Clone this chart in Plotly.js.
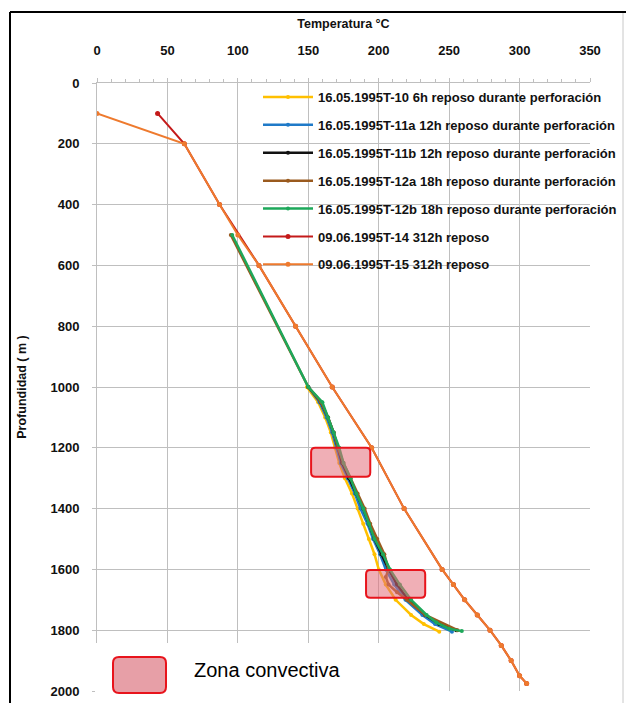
<!DOCTYPE html>
<html><head><meta charset="utf-8">
<script src="https://cdn.plot.ly/plotly-3.0.1.min.js"></script>
<style>html,body{margin:0;padding:0;background:#fff}#chart{width:635px;height:703px}</style>
</head><body><div id="chart"></div>
<script>
// ---- data ----
const seriesNames = [
  "16.05.1995T-10 6h reposo durante perforación",
  "16.05.1995T-11a 12h reposo durante perforación",
  "16.05.1995T-11b 12h reposo durante perforación",
  "16.05.1995T-12a 18h reposo durante perforación",
  "16.05.1995T-12b 18h reposo durante perforación",
  "09.06.1995T-14 312h reposo",
  "09.06.1995T-15 312h reposo"
];
const depthT10  = [1000,1050,1100,1150,1200,1250,1300,1350,1400,1450,1500,1550,1600,1650,1700,1750,1780,1805];
const tempT10   = [149,157,162,166,169,172,176,181,185,189,193,197,200,205,212,223,232,243];
const depthT11a = [1000,1050,1100,1150,1200,1250,1300,1350,1400,1450,1500,1550,1600,1650,1700,1750,1780,1805];
const tempT11a  = [150,158,163,167,170,173,178,183,187,192,196,201,205,211,219,231,240,252];
const depthT11b = [1000,1050,1100,1150,1200,1250,1300,1350,1400,1450,1500,1550,1600,1650,1700,1750,1780,1800];
const tempT11b  = [150,159,164,168,171,174,179,184,189,193,197,202,207,213,221,233,243,255];
const depthT12a = [500,1000,1050,1100,1150,1200,1250,1300,1350,1400,1450,1500,1550,1600,1625,1650,1675,1700,1750,1800];
const tempT12a  = [95,150,159,164,168,171,175,180,185,190,194,199,204,207,205,207,213,220,233,256];
const depthT12b = [500,1000,1050,1100,1150,1200,1250,1300,1350,1400,1450,1500,1550,1600,1650,1700,1750,1775,1795,1803];
const tempT12b  = [96,150,160,164,168,172,175,180,184,189,193,197,203,208,215,223,234,241,250,259];
const depthT14  = [100,200,400,600,800,1000,1200,1400,1600,1650,1700,1750,1800,1850,1900,1950,1975];
const tempT14   = [43,62,87,115,141,167,195,218,245,253,261,270,279,287,294,300,305];
const depthT15  = [100,200,400,500,600,800,1000,1200,1400,1600,1650,1700,1750,1800,1850,1900,1950,1975];
const tempT15   = [0,62,87,100,115,141,167,195,218,245,253,261,270,279,287,294,300,305];
// convective zones: [tempMin, tempMax], [depthMin, depthMax]
const zoneTemp  = [[152,194],[191,233]];
const zoneDepth = [[1200,1295],[1602,1693]];
const xTicks = [0,50,100,150,200,250,300,350];
const yTicks = [0,200,400,600,800,1000,1200,1400,1600,1800,2000];

const colors = ["#FFC000","#1F7AC8","#111111","#9A5A1E","#1DA85A","#C41A1A","#EE7A2E"];
const xs = [tempT10,tempT11a,tempT11b,tempT12a,tempT12b,tempT14,tempT15];
const ys = [depthT10,depthT11a,depthT11b,depthT12a,depthT12b,depthT14,depthT15];

const traces = xs.map((x,i)=>({
  type:'scatter', mode:'lines+markers', x:x, y:ys[i], name:seriesNames[i],
  legendgroup:'g'+i,
  line:{color:colors[i], width: i<5 ? 2.5 : 2},
  marker:{color:colors[i], size: i<5 ? 4 : 5}
}));

function roundRect(x0,x1,y0,y1,rx,ry){
  return `M${x0+rx},${y0} L${x1-rx},${y0} Q${x1},${y0} ${x1},${y0+ry} L${x1},${y1-ry} Q${x1},${y1} ${x1-rx},${y1} L${x0+rx},${y1} Q${x0},${y1} ${x0},${y1-ry} L${x0},${y0+ry} Q${x0},${y0} ${x0+rx},${y0} Z`;
}
const zoneShapes = zoneTemp.map((t,i)=>({
  type:'path', xref:'x', yref:'y',
  path: roundRect(t[0],t[1],zoneDepth[i][0],zoneDepth[i][1],3,14),
  fillcolor:'rgba(228,110,122,0.55)', line:{color:'#E8141C', width:2}
}));

const px = v => (v-97)/493;
const py = v => 1-(v-83)/608;

const shapes = [
  ...zoneShapes,
  {type:'line', xref:'paper', yref:'paper', x0:px(10), x1:px(626), y0:py(12), y1:py(12), line:{color:'#000', width:2}},
  {type:'line', xref:'paper', yref:'paper', x0:px(10), x1:px(10), y0:py(12), y1:py(703), line:{color:'#000', width:2}},
  {type:'line', xref:'paper', yref:'paper', x0:px(623), x1:px(623), y0:py(13), y1:py(703), line:{color:'#C8C8C8', width:1}},
  {type:'rect', xref:'paper', yref:'paper', x0:px(95), x1:px(415), y0:py(643), y1:py(703), fillcolor:'#fff', line:{width:0}},
  {type:'path', xref:'paper', yref:'paper',
   path: roundRect(px(113),px(166),py(657),py(693),6/493,-6/608),
   fillcolor:'rgba(225,135,145,0.8)', line:{color:'#E8141C', width:2}}
];

const F = 'Liberation Sans, Arial, sans-serif';
const layout = {
  width:635, height:703,
  margin:{l:97, r:45, t:83, b:12, autoexpand:false},
  paper_bgcolor:'#fff', plot_bgcolor:'#fff',
  showlegend:true,
  legend:{x:px(258), y:py(82), xanchor:'left', yanchor:'top', bgcolor:'rgba(0,0,0,0)',
          traceorder:'grouped', tracegroupgap:8, itemwidth:50,
          font:{family:F, size:13, color:'#111', weight:'bold'}},
  xaxis:{range:[0,350], side:'top', tickvals:xTicks, showgrid:true, gridcolor:'#BFBFBF', gridwidth:1,
         zeroline:false, showline:true, linecolor:'#BFBFBF', ticks:'outside', ticklen:4, tickcolor:'#BFBFBF',
         ticklabelstandoff:18,
         minor:{dtick:10, ticks:'outside', ticklen:3, tickcolor:'#BFBFBF', showgrid:false},
         tickfont:{family:F, size:13, color:'#111', weight:'bold'},
         title:{text:'Temperatura °C', standoff:11, font:{family:F, size:12.5, color:'#111', weight:'bold'}}},
  yaxis:{range:[2000,0], tickvals:yTicks, showgrid:true, gridcolor:'#BFBFBF', gridwidth:1,
         zeroline:false, showline:true, linecolor:'#BFBFBF', ticks:'outside', ticklen:4, tickcolor:'#BFBFBF',
         ticklabelstandoff:10,
         tickfont:{family:F, size:13, color:'#111', weight:'bold'},
         title:{text:'Profundidad ( m )', standoff:21, font:{family:F, size:12.5, color:'#111', weight:'bold'}}},
  shapes:shapes,
  annotations:[
    {xref:'paper', yref:'paper', x:px(192), y:py(670), xanchor:'left', yanchor:'middle', showarrow:false,
     text:'Zona convectiva', font:{family:F, size:20, color:'#000'}}
  ]
};
Plotly.newPlot('chart', traces, layout, {displayModeBar:false, staticPlot:true});
</script></body></html>
